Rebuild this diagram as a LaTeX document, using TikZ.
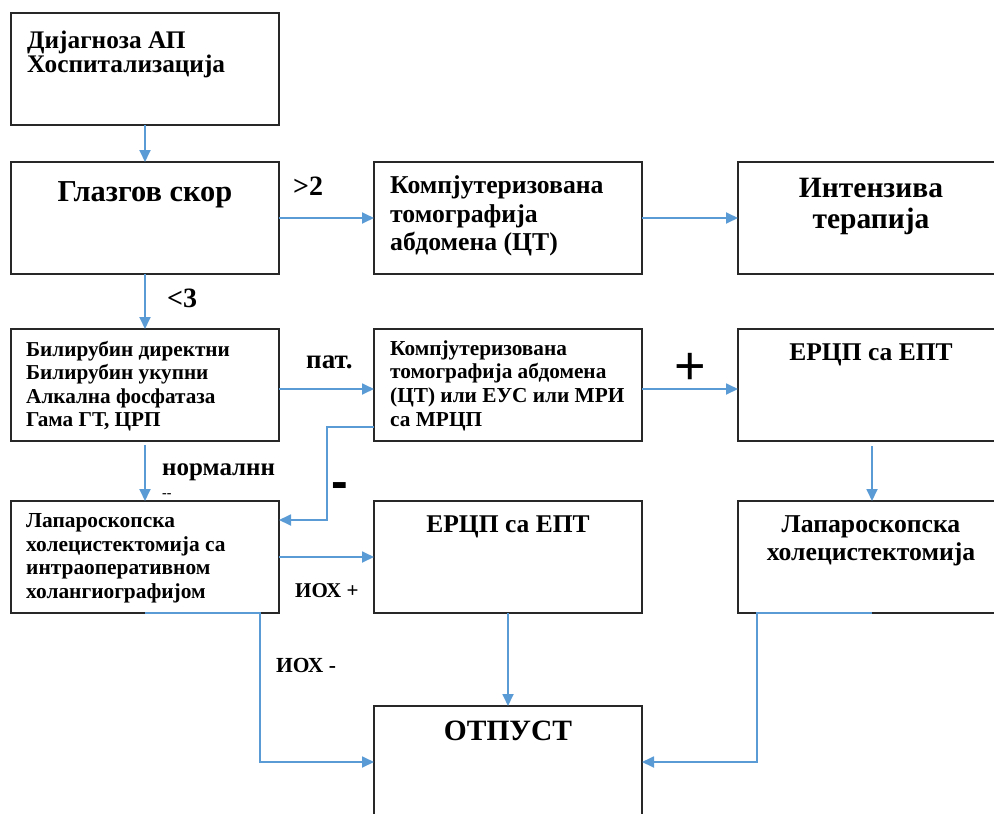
\documentclass[tikz,border=0pt]{standalone}
\usepackage{fontspec}
\setmainfont{Liberation Serif}
\newfontfamily\mysans{Liberation Sans}
\usetikzlibrary{arrows.meta}
\definecolor{arrblue}{RGB}{91,155,213}
\definecolor{boxline}{RGB}{40,40,40}
\newcommand\myfs[1]{\fontsize{#1}{#1}\selectfont\bfseries}
\begin{document}
\begin{tikzpicture}[x=1pt,y=-1pt,
  box/.style={draw=boxline,line width=1.2pt,minimum width=268pt,minimum height=112pt,anchor=north west,inner sep=0pt,outer sep=0pt},
  arr/.style={draw=arrblue,line width=1.8pt,-{Triangle[length=12pt,width=11pt]}},
  tl/.style={anchor=base west,inner sep=0pt},
  tc/.style={anchor=base,inner sep=0pt}]
\clip (0,0) rectangle (994,814);
% boxes
\node[box] (b1) at (11,13) {};
\node[box] (b2) at (11,162) {};
\node[box] (ct1) at (374,162) {};
\node[box] (int) at (738,162) {};
\node[box] (bil) at (11,329) {};
\node[box] (ct2) at (374,329) {};
\node[box] (e1) at (738,329) {};
\node[box] (lap) at (11,501) {};
\node[box] (e2) at (374,501) {};
\node[box] (lapr) at (738,501) {};
\node[box] (otp) at (374,706) {};
% box texts
\node[tl,font=\myfs{25.3}] (t1a) at (27,48) {Дијагноза АП};
\node[tl,font=\myfs{25.3}] (t1b) at (27,72) {Хоспитализација};
\node[tc,font=\myfs{30.4}] (t2) at (145,201) {Глазгов скор};
\node[tl,font=\myfs{25.7}] (t3a) at (390,193) {Компјутеризована};
\node[tl,font=\myfs{25.7}] (t3b) at (390,222) {томографија};
\node[tl,font=\myfs{25.7}] (t3c) at (390,250) {абдомена (ЦТ)};
\node[tc,font=\myfs{29.5}] (t4a) at (871,197) {Интензива};
\node[tc,font=\myfs{29.5}] (t4b) at (871,228) {терапија};
\node[tl,font=\myfs{21.2}] (t5a) at (26,356) {Билирубин директни};
\node[tl,font=\myfs{21.2}] (t5b) at (26,379) {Билирубин укупни};
\node[tl,font=\myfs{21.2}] (t5c) at (26,403) {Алкална фосфатаза};
\node[tl,font=\myfs{21.2}] (t5d) at (26,426) {Гама ГТ, ЦРП};
\node[tl,font=\myfs{21.3}] (t6a) at (390,355) {Компјутеризована};
\node[tl,font=\myfs{21.3}] (t6b) at (390,378) {томографија абдомена};
\node[tl,font=\myfs{21.3}] (t6c) at (390,402) {(ЦТ) или ЕУС или МРИ};
\node[tl,font=\myfs{21.3}] (t6d) at (390,426) {са МРЦП};
\node[tc,font=\myfs{25.5}] (t7) at (871,360) {ЕРЦП са ЕПТ};
\node[tl,font=\myfs{21.4}] (t8a) at (26,527) {Лапароскопска};
\node[tl,font=\myfs{21.4}] (t8b) at (26,551) {холецистектомија са};
\node[tl,font=\myfs{21.4}] (t8c) at (26,574) {интраоперативном};
\node[tl,font=\myfs{21.4}] (t8d) at (26,598) {холангиографијом};
\node[tc,font=\myfs{25.5}] (t9) at (508,532) {ЕРЦП са ЕПТ};
\node[tc,font=\myfs{25.7}] (t10a) at (871,532) {Лапароскопска};
\node[tc,font=\myfs{25.7}] (t10b) at (871,560) {холецистектомија};
\node[tc,font=\myfs{29.5}] (t11) at (508,740) {ОТПУСТ};
% labels
\node[tl,font=\myfs{28}] (l1) at (293,195) {>2};
\node[tl,font=\myfs{28}] (l2) at (167,307) {<3};
\node[tl,font=\myfs{27}] (l3) at (306,368) {пат.};
\node[tl,font=\myfs{25}] (l4) at (162,475) {нормалнн};
\node[tl,font=\myfs{14}] (l5) at (162,497) {-{}-};
\node[tl,font=\myfs{21}] (l6) at (295,597) {ИОХ +};
\node[tl,font=\myfs{21.5}] (l7) at (276,672) {ИОХ -};
\node[tc,font={\mysans\fontsize{54}{54}\selectfont}] (l8) at (690,384) {+};
\node[tc,font={\mysans\fontsize{50}{50}\selectfont\bfseries}] (l9) at (340,498) {-};
% connectors
\draw[arr] (b1.south) -- (b2.north);
\draw[arr] (b2.east) -- (ct1.west);
\draw[arr] (ct1.east) -- (int.west);
\draw[arr] (b2.south) -- (bil.north);
\draw[arr] ([yshift=-4pt]bil.east) -- ([yshift=-4pt]ct2.west);
\draw[arr] ([yshift=-4pt]ct2.east) -- ([yshift=-4pt]e1.west);
\draw[arr] ([yshift=-42pt]ct2.west) -| ([xshift=48pt,yshift=37pt]lap.east) -- ([yshift=37pt]lap.east);
\draw[arr] ([yshift=-4pt]bil.south) -- (lap.north);
\draw[arr] (lap.east) -- (e2.west);
\draw[arr] (lap.south) -- ++(115,0) |- (otp.west);
\draw[arr] (e2.south) -- (otp.north);
\draw[arr] ([yshift=-5pt]e1.south) -- (lapr.north);
\draw[arr] (lapr.south) -- ++(-115,0) |- (otp.east);
\end{tikzpicture}
\end{document}
